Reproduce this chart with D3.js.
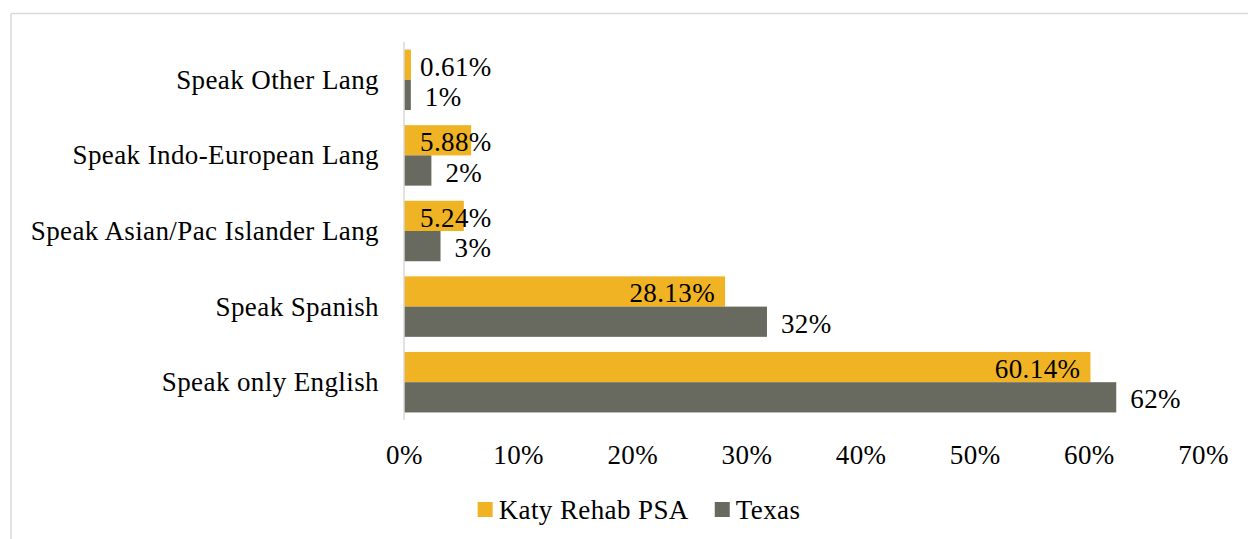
<!DOCTYPE html>
<html>
<head>
<script src="https://cdn.jsdelivr.net/npm/d3@7"></script>
<style>
  body { margin: 0; background: #fff; }
  text { font-family: "Liberation Serif", serif; fill: #000; letter-spacing: 0.4px; }
</style>
</head>
<body>
<div id="chart"></div>
<script>
const categories = ["Speak Other Lang", "Speak Indo-European Lang", "Speak Asian/Pac Islander Lang", "Speak Spanish", "Speak only English"];
const seriesNames = ["Katy Rehab PSA", "Texas"];
const katyValues = [0.61, 5.88, 5.24, 28.13, 60.14];
const katyLabels = ["0.61%", "5.88%", "5.24%", "28.13%", "60.14%"];
const texasValues = [0.6, 2.4, 3.2, 31.8, 62.4];
const texasLabels = ["1%", "2%", "3%", "32%", "62%"];
const tickValues = [0, 10, 20, 30, 40, 50, 60, 70];

const colors = { "Katy Rehab PSA": "#F0B323", "Texas": "#686A5F" };
const W = 1248, H = 539;
const FS = 27;

const svg = d3.select("#chart").append("svg").attr("width", W).attr("height", H);

// outer frame (only top & left visible)
svg.append("line").attr("x1", 11).attr("x2", W).attr("y1", 13.5).attr("y2", 13.5)
  .attr("stroke", "#d9d9d9").attr("stroke-width", 1.5);
svg.append("line").attr("x1", 11).attr("x2", 11).attr("y1", 13.5).attr("y2", H)
  .attr("stroke", "#d9d9d9").attr("stroke-width", 1.5);

const x = d3.scaleLinear().domain([0, 70]).range([404, 1203]);
const y = d3.scaleBand().domain(categories).range([42, 420]).paddingInner(0.2).paddingOuter(0.1);
const ySub = d3.scaleBand().domain(seriesNames).range([0, y.bandwidth()]);

const rows = categories.map((c, i) => ({
  cat: c,
  bars: [
    { s: "Katy Rehab PSA", v: katyValues[i], label: katyLabels[i] },
    { s: "Texas", v: texasValues[i], label: texasLabels[i] }
  ]
}));

const g = svg.selectAll("g.row").data(rows).join("g")
  .attr("class", "row")
  .attr("transform", d => `translate(0,${y(d.cat)})`);

g.selectAll("rect").data(d => d.bars).join("rect")
  .attr("x", x(0))
  .attr("y", d => ySub(d.s))
  .attr("width", d => x(d.v) - x(0))
  .attr("height", ySub.bandwidth())
  .attr("fill", d => colors[d.s]);

// data labels
g.selectAll("text.val").data(d => d.bars).join("text")
  .attr("class", "val")
  .attr("font-size", FS)
  .attr("dominant-baseline", "central")
  .attr("y", d => ySub(d.s) + ySub.bandwidth() / 2 + 2)
  .text(d => d.label)
  .each(function(d) {
    const t = d3.select(this);
    if (d.s === "Texas") {
      t.attr("x", x(d.v) + 14).attr("text-anchor", "start");
    } else {
      const len = this.getComputedTextLength();
      const barW = x(d.v) - x(0);
      if (len + 30 > barW) t.attr("x", x(0) + 16).attr("text-anchor", "start");
      else t.attr("x", x(d.v) - 10).attr("text-anchor", "end");
    }
  });

// category labels
svg.selectAll("text.cat").data(categories).join("text")
  .attr("class", "cat")
  .attr("x", 379)
  .attr("y", d => y(d) + y.bandwidth() / 2)
  .attr("dominant-baseline", "central")
  .attr("text-anchor", "end")
  .attr("font-size", FS)
  .text(d => d);

// axis line
svg.append("line").attr("x1", x(0)).attr("x2", x(0)).attr("y1", 42).attr("y2", 420)
  .attr("stroke", "#d9d9d9").attr("stroke-width", 1.5);

// x axis ticks
const xAxis = d3.axisBottom(x).tickValues(tickValues).tickFormat(d => d + "%").tickSize(0).tickPadding(0);
const ax = svg.append("g").attr("transform", "translate(0,445)").call(xAxis);
ax.select(".domain").remove();
ax.selectAll("text").attr("font-size", FS).attr("font-family", "Liberation Serif, serif").attr("fill", "#000");

// legend, centered around x=639
const legend = svg.append("g");
const items = seriesNames.map(s => {
  const it = legend.append("g");
  it.append("rect").attr("x", 0).attr("y", 502).attr("width", 15).attr("height", 15).attr("fill", colors[s]);
  const t = it.append("text").attr("x", 21).attr("y", 510)
    .attr("dominant-baseline", "central").attr("font-size", FS).text(s);
  return { g: it, w: 21 + t.node().getComputedTextLength() };
});
const gap = 26;
const total = d3.sum(items, d => d.w) + gap * (items.length - 1);
let cx = 639 - total / 2;
items.forEach(it => { it.g.attr("transform", `translate(${cx},0)`); cx += it.w + gap; });
</script>
</body>
</html>
